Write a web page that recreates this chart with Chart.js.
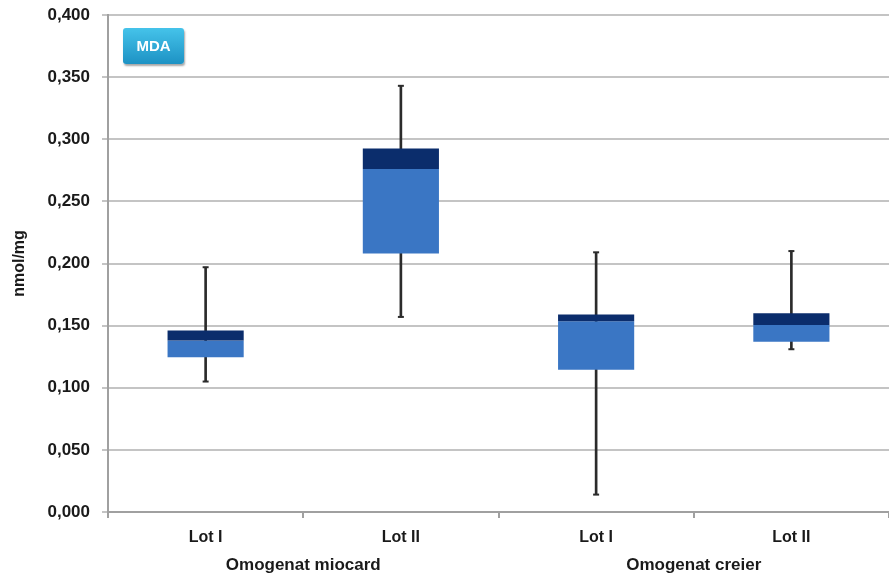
<!DOCTYPE html>
<html>
<head>
<meta charset="utf-8">
<script src="https://cdn.jsdelivr.net/npm/chart.js@4/dist/chart.umd.min.js"></script>
<style>
  body { margin: 0; background: #fff; }
  #wrap { position: relative; width: 889px; height: 578px; }
  #tag {
    position: absolute; left: 123px; top: 28px; width: 61px; height: 36px;
    background: linear-gradient(#45c3ea, #1d92c4);
    border-radius: 3px; box-shadow: 1px 2px 2px rgba(0,0,0,0.35);
    color: #fff; font: bold 15px 'Liberation Sans', Arial, sans-serif;
    line-height: 36px; text-align: center;
  }
</style>
</head>
<body>
<div id="wrap">
  <canvas id="chart" width="889" height="578"></canvas>
  <div id="tag">MDA</div>
</div>
<script>
var categories = ['Lot I', 'Lot II', 'Lot I', 'Lot II'];
var groups = ['Omogenat miocard', 'Omogenat creier'];
var minVals = [0.105, 0.157, 0.014, 0.131];
var q1Vals  = [0.1245, 0.208, 0.1145, 0.137];
var medVals = [0.138, 0.276, 0.1535, 0.1505];
var q3Vals  = [0.146, 0.2925, 0.159, 0.160];
var maxVals = [0.197, 0.343, 0.209, 0.210];
var yTicks = [0, 0.05, 0.1, 0.15, 0.2, 0.25, 0.3, 0.35, 0.4];

function pairs(a, b) {
  return a.map(function (v, i) { return [v, b[i]]; });
}

var font = "'Liberation Sans', Arial, sans-serif";

var config = {
  type: 'bar',
  data: {
    labels: categories,
    datasets: [
      {
        label: 'whisker', data: pairs(minVals, maxVals), grouped: false,
        backgroundColor: '#2b2b2b', barThickness: 2, order: 3
      },
      {
        label: 'lower', data: pairs(q1Vals, medVals), grouped: false,
        backgroundColor: '#3a76c4', categoryPercentage: 1, barPercentage: 0.39, order: 2
      },
      {
        label: 'upper', data: pairs(medVals, q3Vals), grouped: false,
        backgroundColor: '#0b2d6c', categoryPercentage: 1, barPercentage: 0.39, order: 1
      },
      {
        type: 'line', label: 'min', data: minVals, showLine: false,
        pointStyle: 'line', pointRadius: 3, borderWidth: 2,
        borderColor: '#2b2b2b', pointHoverRadius: 3, order: 0
      },
      {
        type: 'line', label: 'max', data: maxVals, showLine: false,
        pointStyle: 'line', pointRadius: 3, borderWidth: 2,
        borderColor: '#2b2b2b', pointHoverRadius: 3, order: 0
      }
    ]
  },
  options: {
    responsive: false,
    animation: false,
    layout: { autoPadding: false, padding: { top: 15, right: 0, left: 0, bottom: 0 } },
    plugins: { legend: { display: false }, tooltip: { enabled: false } },
    scales: {
      y: {
        min: 0, max: 0.4,
        afterBuildTicks: function (s) { s.ticks = yTicks.map(function (v) { return { value: v }; }); },
        afterFit: function (s) { s.width = 108; s.paddingTop = 0; s.paddingBottom = 0; },
        ticks: {
          color: '#1a1a1a', padding: 12,
          font: { family: font, size: 17, weight: 'bold' },
          callback: function (v) { return v.toFixed(3).replace('.', ','); }
        },
        grid: { color: '#c4c4c4', lineWidth: 2, tickLength: 6 },
        border: { color: '#a0a0a0', width: 2 },
        title: {
          display: true, text: 'nmol/mg', color: '#1a1a1a', padding: { top: 10, bottom: 0 },
          font: { family: font, size: 16, weight: 'bold' }
        }
      },
      x: {
        weight: 0,
        afterFit: function (s) { s.height = 30; s.paddingLeft = 0; s.paddingRight = 0; },
        ticks: { color: '#1a1a1a', padding: 10, font: { family: font, size: 16, weight: 'bold' } },
        grid: { drawOnChartArea: false, color: '#a0a0a0', lineWidth: 2, tickLength: 6 },
        border: { color: '#a0a0a0', width: 2 }
      },
      x2: {
        type: 'category', position: 'bottom', labels: groups, offset: true, weight: 1,
        afterFit: function (s) { s.height = 36; s.paddingLeft = 0; s.paddingRight = 0; },
        ticks: { color: '#1a1a1a', padding: 5, font: { family: font, size: 17, weight: 'bold' } },
        grid: { display: false },
        border: { display: false }
      }
    }
  }
};

new Chart(document.getElementById('chart').getContext('2d'), config);
</script>
</body>
</html>
